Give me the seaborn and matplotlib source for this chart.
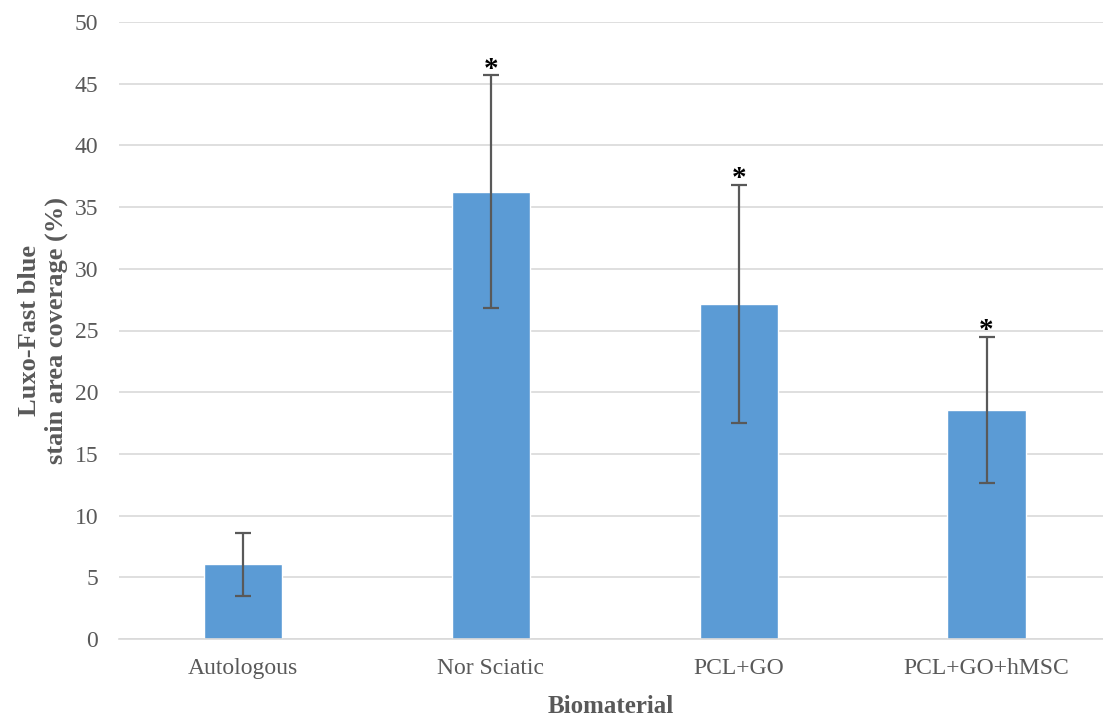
import matplotlib
matplotlib.use("Agg")
import matplotlib.pyplot as plt
import seaborn as sns
import pandas as pd

# Luxol fast blue staining per biomaterial group
groups = ["Autologous", "Nor Sciatic", "PCL+GO", "PCL+GO+hMSC"]
coverage = [6.05, 36.25, 27.15, 18.55]
coverage_sd = [2.55, 9.43, 9.64, 5.93]
significant = [False, True, True, True]

df = pd.DataFrame({"Biomaterial": groups, "Coverage": coverage})

sns.set_theme(style="white")
plt.rcParams["font.family"] = ["Liberation Serif", "DejaVu Serif"]

text_grey = "#595959"
grid_grey = "#D9D9D9"
bar_blue = "#5B9BD5"

fig = plt.figure(figsize=(11.03, 7.19), dpi=100)
ax = fig.add_axes([119 / 1103, 80 / 719, 1 - 119 / 1103, 617 / 719])

sns.barplot(data=df, x="Biomaterial", y="Coverage", color=bar_blue,
            saturation=1, width=0.315, errorbar=None, ax=ax, zorder=2)

ax.errorbar(range(len(groups)), coverage, yerr=coverage_sd, fmt="none",
            ecolor=text_grey, elinewidth=1.6, capsize=6, capthick=1.6, zorder=3)

# significance markers sit just above the upper error caps
for i, (v, sd, sig) in enumerate(zip(coverage, coverage_sd, significant)):
    if sig:
        ax.text(i, v + sd - 0.1, "*", ha="center", va="baseline",
                fontsize=21, fontweight="bold", color="black")

ax.set_ylim(0, 50)
ax.set_xlim(-0.5, 3.47)
ax.set_yticks(range(0, 51, 5))
ax.yaxis.grid(True, color=grid_grey, linewidth=1.2, zorder=0)
ax.set_axisbelow(True)

for side in ["top", "right", "left"]:
    ax.spines[side].set_visible(False)
ax.spines["bottom"].set_color(grid_grey)
ax.spines["bottom"].set_linewidth(1.2)

ax.tick_params(axis="both", length=0, labelsize=17, labelcolor=text_grey)
ax.tick_params(axis="y", pad=15)
ax.tick_params(axis="x", pad=14)

ax.set_xlabel("Biomaterial", fontsize=18, fontweight="bold", color=text_grey, labelpad=11)
ax.set_ylabel("Luxo-Fast blue\nstain area coverage (%)", fontsize=19,
              fontweight="bold", color=text_grey, linespacing=1.2)
ax.yaxis.set_label_coords(-0.052, 0.5)

fig.savefig("out.png", dpi=100)
